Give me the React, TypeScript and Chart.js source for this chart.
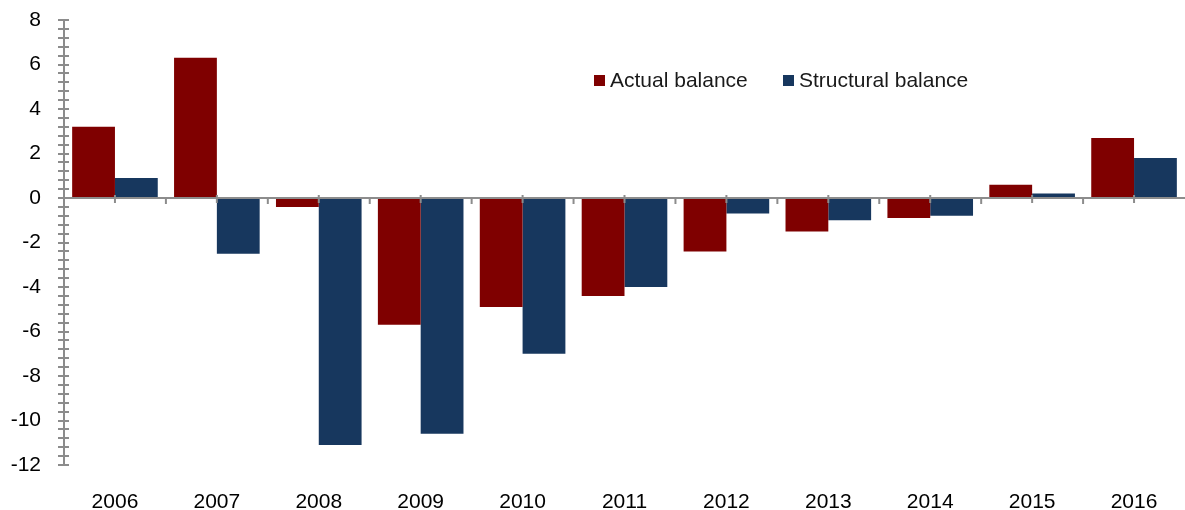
import { useEffect, useRef } from "react";
import { Chart, registerables } from "chart.js";

Chart.register(...registerables);

const categories = ["2006", "2007", "2008", "2009", "2010", "2011", "2012", "2013", "2014", "2015", "2016"];
const actualBalance = [3.2, 6.3, -0.4, -5.7, -4.9, -4.4, -2.4, -1.5, -0.9, 0.6, 2.7];
const structuralBalance = [0.9, -2.5, -11.1, -10.6, -7.0, -4.0, -0.7, -1.0, -0.8, 0.2, 1.8];
const seriesNames = ["Actual balance", "Structural balance"];
const yMin = -12;
const yMax = 8;
const yStep = 2;
const yMinorCount = 50;

const RED = "#7f0000";
const NAVY = "#17375e";
const AXIS = "#8c8c8c";
const FONT = "'Liberation Sans', Arial, sans-serif";

const axesPlugin = {
  id: "customAxes",
  afterDatasetsDraw(chart: any) {
    const ctx = chart.ctx;
    const ys = chart.scales.y;
    const xs = chart.scales.x;
    const area = chart.chartArea;
    const ax = area.left;
    ctx.save();
    ctx.strokeStyle = AXIS;
    ctx.lineWidth = 2;
    ctx.beginPath();
    ctx.moveTo(ax, ys.getPixelForValue(yMax));
    ctx.lineTo(ax, ys.getPixelForValue(yMin));
    ctx.stroke();
    for (let i = 0; i <= yMinorCount; i++) {
      const v = yMin + ((yMax - yMin) * i) / yMinorCount;
      const py = Math.round(ys.getPixelForValue(v));
      ctx.beginPath();
      ctx.moveTo(ax - 6, py);
      ctx.lineTo(ax + 5, py);
      ctx.stroke();
    }
    const y0 = Math.round(ys.getPixelForValue(0));
    ctx.beginPath();
    ctx.moveTo(ax, y0);
    ctx.lineTo(area.right, y0);
    ctx.stroke();
    const n = categories.length;
    for (let i = 0; i < n; i++) {
      const c = xs.getPixelForValue(i);
      ctx.beginPath();
      ctx.moveTo(c, y0 - 3);
      ctx.lineTo(c, y0 + 5);
      ctx.stroke();
      if (i < n - 1) {
        const b = (c + xs.getPixelForValue(i + 1)) / 2;
        ctx.beginPath();
        ctx.moveTo(b, y0);
        ctx.lineTo(b, y0 + 6);
        ctx.stroke();
      }
    }
    ctx.restore();
  },
  afterDraw(chart: any) {
    const ctx = chart.ctx;
    ctx.save();
    ctx.font = `21px ${FONT}`;
    ctx.textBaseline = "middle";
    const items = [
      { name: seriesNames[0], color: RED, x: 594 },
      { name: seriesNames[1], color: NAVY, x: 783 },
    ];
    for (const it of items) {
      ctx.fillStyle = it.color;
      ctx.fillRect(it.x, 75, 11, 11);
      ctx.fillStyle = "#1a1a1a";
      ctx.fillText(it.name, it.x + 16, 81);
    }
    ctx.restore();
  },
};

export default function App() {
  const ref = useRef<HTMLCanvasElement | null>(null);
  useEffect(() => {
    document.body.style.margin = "0";
    if (!ref.current) return;
    const chart = new Chart(ref.current, {
      type: "bar",
      data: {
        labels: categories,
        datasets: [
          { label: seriesNames[0], data: actualBalance, backgroundColor: RED, borderWidth: 0 },
          { label: seriesNames[1], data: structuralBalance, backgroundColor: NAVY, borderWidth: 0 },
        ],
      },
      options: {
        animation: false,
        responsive: false,
        maintainAspectRatio: false,
        layout: { padding: { top: 20, left: 0, right: 0, bottom: 0 } },
        plugins: { legend: { display: false }, tooltip: { enabled: false } },
        datasets: { bar: { categoryPercentage: 0.84, barPercentage: 1.0 } },
        scales: {
          x: {
            grid: { display: false },
            border: { display: false },
            ticks: { color: "#000", font: { family: FONT, size: 21 }, padding: 17, maxRotation: 0 },
            afterFit(scale: any) {
              scale.height = 45;
              scale.paddingLeft = 0;
              scale.paddingRight = 0;
            },
          },
          y: {
            min: yMin,
            max: yMax,
            grid: { display: false },
            border: { display: false },
            ticks: { stepSize: yStep, color: "#000", font: { family: FONT, size: 21 }, padding: 15 },
            afterFit(scale: any) {
              scale.width = 64;
              scale.paddingTop = 0;
              scale.paddingBottom = 0;
            },
          },
        },
      },
      plugins: [axesPlugin],
    });
    return () => chart.destroy();
  }, []);
  return (
    <div style={{ width: 1185, height: 510 }}>
      <canvas ref={ref} width={1185} height={510} style={{ display: "block" }} />
    </div>
  );
}
